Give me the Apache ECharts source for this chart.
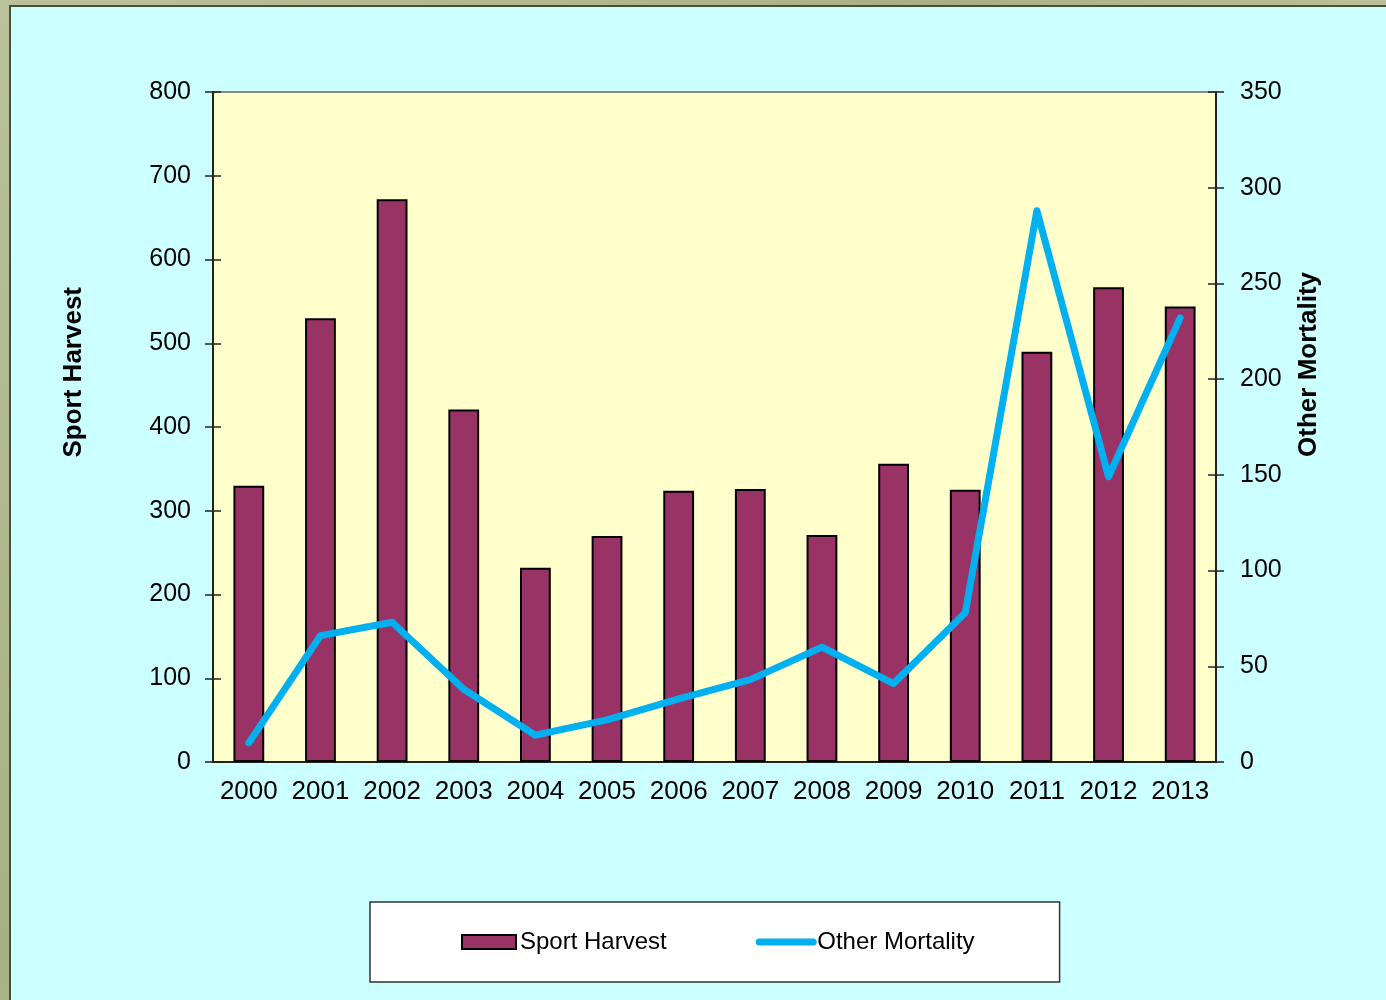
<!DOCTYPE html>
<html lang="en">
<head>
    <meta charset="UTF-8">
    <title>Sport Harvest and Other Mortality</title>
    <style>
        html, body {
            margin: 0;
            padding: 0;
            width: 1386px;
            height: 1000px;
            overflow: hidden;
            background: linear-gradient(135deg, #b9c29a 0%, #a7b282 40%, #c3cba5 70%, #aab587 100%);
        }
        #frame {
            position: absolute;
            left: 9px;
            top: 5px;
            width: 1390px;
            height: 1000px;
            background: #CCFFFF;
            border: 2px solid #4a4f3c;
        }
        #main {
            position: absolute;
            left: 0;
            top: 0;
            width: 1386px;
            height: 1000px;
        }
    </style>
    <script src="https://cdn.jsdelivr.net/npm/echarts@6/dist/echarts.min.js"></script>
</head>
<body>

<div id="frame"></div>
<div id="main"></div>

<script>
    var years = ['2000', '2001', '2002', '2003', '2004', '2005', '2006',
                 '2007', '2008', '2009', '2010', '2011', '2012', '2013'];
    var sportHarvest = [330, 530, 672, 421, 232, 270, 324, 326, 271, 356, 325, 490, 567, 544];
    var otherMortality = [10, 66, 73, 38, 14, 22, 33, 43, 60, 41, 78, 288, 149, 232];
    var leftTicks = [0, 800, 100];    // min, max, interval
    var rightTicks = [0, 350, 50];

    var chartDom = document.getElementById('main');
    var myChart = echarts.init(chartDom);
    var font = 'Arial, "Liberation Sans", sans-serif';
    var axisColor = '#222';

    // the original ticks cross the axis line, so each axis gets a twin with inside ticks
    function valueAxis(ticks, pos, inside) {
        return {
            type: 'value',
            position: pos,
            min: ticks[0],
            max: ticks[1],
            interval: ticks[2],
            splitLine: { show: false },
            axisLine: { show: !inside, lineStyle: { color: axisColor, width: 2 } },
            axisTick: { show: true, inside: inside, length: 8, lineStyle: { color: axisColor, width: 1.5 } },
            axisLabel: {
                show: !inside,
                margin: pos == 'left' ? 22 : 24,
                color: '#000',
                fontSize: 25,
                fontFamily: font
            }
        };
    }

    var option = {
        animation: false,
        backgroundColor: 'transparent',
        grid: {
            left: 213,
            right: 170,
            top: 92,
            bottom: 238,
            show: true,
            backgroundColor: '#FFFFCC',
            borderColor: '#666',
            borderWidth: 1.5
        },
        legend: {
            left: 370,
            top: 902,
            backgroundColor: '#fff',
            borderColor: '#333',
            borderWidth: 1.5,
            padding: [28, 85, 28, 91],
            itemGap: 89,
            itemWidth: 54,
            itemHeight: 14,
            textStyle: { color: '#000', fontSize: 24, fontFamily: font, padding: [0, 0, 0, -1] },
            data: [
                { name: 'Sport Harvest', icon: 'rect' },
                {
                    name: 'Other Mortality',
                    itemStyle: { opacity: 0 },
                    lineStyle: { width: 7, cap: 'round', color: '#00B0F0' }
                }
            ]
        },
        xAxis: [{
            type: 'category',
            data: years,
            axisLine: { lineStyle: { color: axisColor, width: 2 } },
            axisTick: { length: 8, lineStyle: { color: axisColor, width: 1.5 } },
            axisLabel: { interval: 0, margin: 17, color: '#000', fontSize: 26, fontFamily: font }
        }, {
            type: 'category',
            data: years,
            position: 'bottom',
            axisLine: { show: false },
            axisTick: { inside: true, length: 8, lineStyle: { color: axisColor, width: 1.5 } },
            axisLabel: { show: false }
        }],
        yAxis: [
            valueAxis(leftTicks, 'left', false),
            valueAxis(rightTicks, 'right', false),
            valueAxis(leftTicks, 'left', true),
            valueAxis(rightTicks, 'right', true)
        ],
        graphic: [{
            type: 'text',
            left: 61,
            top: 287,
            rotation: Math.PI / 2,
            style: {
                text: 'Sport Harvest',
                fill: '#000',
                font: 'bold 26px ' + font
            }
        }, {
            type: 'text',
            left: 1296,
            top: 272,
            rotation: Math.PI / 2,
            style: {
                text: 'Other Mortality',
                fill: '#000',
                font: 'bold 26px ' + font
            }
        }],
        series: [{
            name: 'Sport Harvest',
            type: 'bar',
            yAxisIndex: 0,
            barWidth: '43%',
            itemStyle: { color: '#993366', borderColor: '#000', borderWidth: 2 },
            data: sportHarvest
        }, {
            name: 'Other Mortality',
            type: 'line',
            yAxisIndex: 1,
            symbol: 'none',
            lineStyle: { color: '#00B0F0', width: 7, cap: 'round', join: 'round' },
            itemStyle: { color: '#00B0F0' },
            data: otherMortality
        }]
    };

    option && myChart.setOption(option);
</script>

</body>
</html>
